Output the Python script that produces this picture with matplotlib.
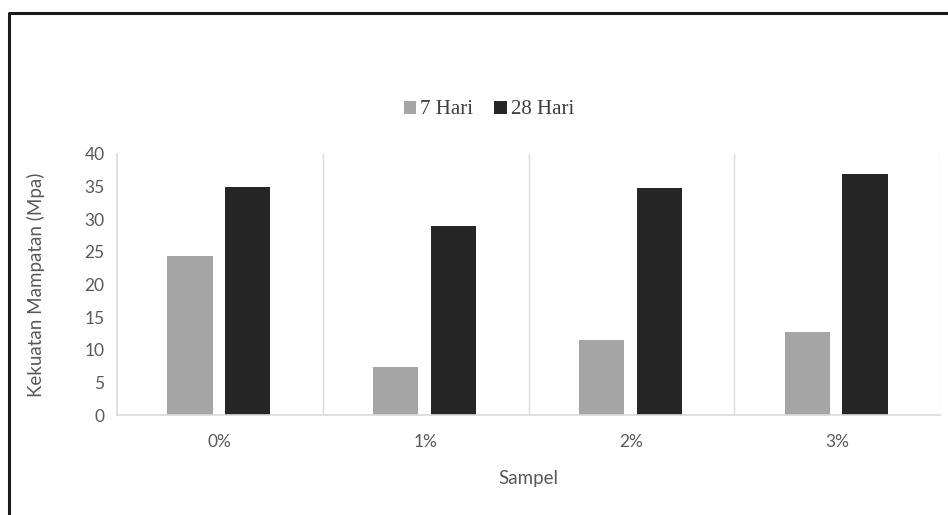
import matplotlib
matplotlib.use("Agg")
import matplotlib.pyplot as plt
from matplotlib.lines import Line2D
import numpy as np

sampel = ['0%', '1%', '2%', '3%']
hari_7 = [24.4, 7.4, 11.5, 12.7]
hari_28 = [35.0, 29.0, 34.8, 37.0]
y_ticks = [0, 5, 10, 15, 20, 25, 30, 35, 40]

plt.rcParams['font.family'] = ['Lato', 'DejaVu Sans']

fig = plt.figure(figsize=(9.48, 5.15), dpi=100)
ax = fig.add_axes([117 / 948, 1 - 415 / 515, (940 - 117) / 948, (415 - 154) / 515])

x = np.arange(len(sampel))
w = 0.22
b1 = ax.bar(x - 0.145, hari_7, w, color='#A5A5A5', label='7 Hari')
b2 = ax.bar(x + 0.135, hari_28, w, color='#262626', label='28 Hari')

ax.set_xlim(-0.5, len(sampel) - 0.5)
ax.set_ylim(0, 40)
ax.set_yticks(y_ticks)
ax.set_xticks(x)
ax.set_xticklabels(sampel)
ax.tick_params(axis='both', length=0, labelsize=12.5, colors='#595959')
ax.tick_params(axis='y', pad=9)
ax.tick_params(axis='x', pad=14)

for s in ['top', 'right']:
    ax.spines[s].set_visible(False)
for s in ['left', 'bottom']:
    ax.spines[s].set_color('#D9D9D9')
    ax.spines[s].set_linewidth(1.2)

# vertical separators between categories
for xb in np.arange(0.5, len(sampel), 1.0):
    ax.axvline(xb, color='#D9D9D9', lw=1.0, zorder=0)

ax.set_xlabel('Sampel', fontsize=13.5, color='#595959', labelpad=14)
fig.text(36 / 948, 1 - 285 / 515, 'Kekuatan Mampatan (Mpa)', rotation=90,
         ha='center', va='center', fontsize=13.5, color='#595959')

leg = fig.legend(handles=[b1, b2], loc='center', bbox_to_anchor=(489 / 948, 1 - 110 / 515),
                 ncol=2, frameon=False, handlelength=0.6, handleheight=0.6,
                 handletextpad=0.2, columnspacing=1.0,
                 prop={'family': 'Liberation Serif', 'size': 15})
for t in leg.get_texts():
    t.set_color('#404040')

# outer frame (left and top edges)
fig.add_artist(Line2D([9 / 948, 9 / 948, 1], [0, 1 - 13 / 515, 1 - 13 / 515],
                      transform=fig.transFigure, color='#1a1a1a', lw=2.2))

fig.savefig('out.png', dpi=100)
